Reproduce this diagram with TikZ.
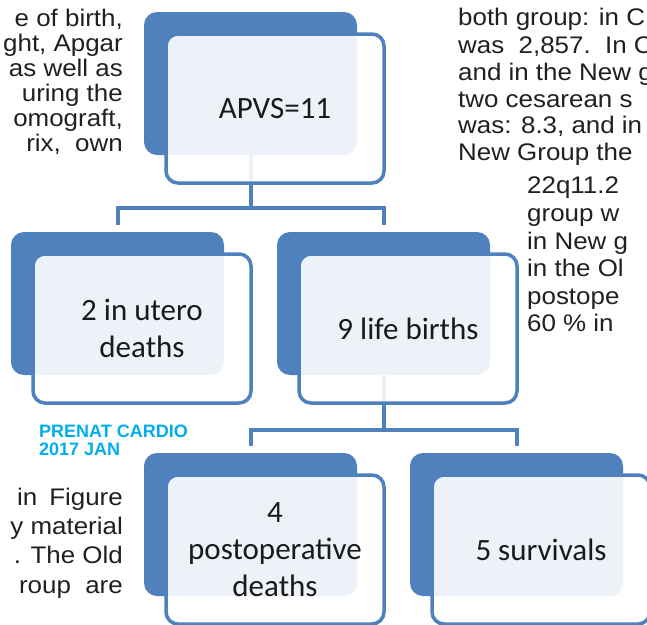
\documentclass[tikz,border=0pt]{standalone}
\usepackage{fontspec}
\setmainfont{Carlito}
\newfontfamily\artfont[FakeStretch=1.08]{Liberation Sans}
\newfontfamily\lblfont{Liberation Sans}
\definecolor{sblue}{HTML}{4F81BD}
\definecolor{cyanlbl}{HTML}{00AEEF}
\definecolor{arttext}{HTML}{231F20}
\definecolor{boxtext}{HTML}{1A1A1A}
\begin{document}
\begin{tikzpicture}[x=1pt,y=-1pt,
  back/.style={fill=sblue, draw=none, rounded corners=13pt, minimum width=213pt, minimum height=143pt, inner sep=0pt},
  front/.style={draw=sblue, line width=3.5pt, fill=white, fill opacity=0.9, text opacity=1, rounded corners=12pt, minimum width=218pt, minimum height=149pt, inner sep=0pt, align=center, font=\fontsize{31}{37}\selectfont, text=boxtext},
  conn/.style={draw=sblue, line width=4pt},
  art/.style={font=\artfont\fontsize{24}{25}\selectfont, text=arttext, inner sep=0pt},
  lbl/.style={font=\lblfont\bfseries\fontsize{18}{18}\selectfont, text=cyanlbl, inner sep=0pt, align=left}]
\useasboundingbox (0,0) rectangle (647,624);
\clip (0,0) rectangle (647,624);
\fill[white] (0,0) rectangle (647,624);

% background (blue) shapes
\node[back] (b1)  at (250.5,83.5) {};
\node[back] (b2a) at (117.5,303.5) {};
\node[back] (b2b) at (383.5,303.5) {};
\node[back] (b3a) at (250.5,524.5) {};
\node[back] (b3b) at (516.5,524.5) {};

% connectors
\coordinate (j1) at (250.5,208);
\coordinate (j2) at (383.5,430);
\draw[conn] (b1.south) -- (j1);
\draw[conn] ([yshift=7pt]b2a.north) |- (j1) -| ([yshift=7pt]b2b.north);
\draw[conn] (b2b.south) -- (j2);
\draw[conn] ([yshift=7pt]b3a.north) |- (j2) -| ([yshift=7pt]b3b.north);

% foreground boxes
\node[front] (f1)  at (275,108.5) {APVS=11};
\node[front] (f2a) at (142,328.5) {2 in utero\\deaths};
\node[front] (f2b) at (408,328.5) {9 life births};
\node[front] (f3a) at (275,549.5) {4\\postoperative\\deaths};
\node[front] (f3b) at (541,549.5) {5 survivals};

% label
\node[lbl, anchor=north west] (lab) at (39,425) {PRENAT CARDIO\\2017 JAN};

% surrounding article text (left column, top)
\node[art, anchor=base east] (tl1) at (123,26)  {e of birth,};
\node[art, anchor=base east] (tl2) at (123,51)  {ght, Apgar};
\node[art, anchor=base east] (tl3) at (123,76)  {as well as};
\node[art, anchor=base east] (tl4) at (123,101) {uring the};
\node[art, anchor=base east] (tl5) at (123,126) {omograft,};
\node[art, anchor=base east] (tl6) at (123,151) {rix,\hspace{0.6em}own};

% left column, bottom
\node[art, anchor=base east] (bl1) at (123,505) {in\hspace{0.5em}Figure};
\node[art, anchor=base east] (bl2) at (123,534) {y material};
\node[art, anchor=base east] (bl3) at (123,563) {. The Old};
\node[art, anchor=base east] (bl4) at (123,593) {roup\hspace{0.6em}are};

% right column
\node[art, anchor=base west] (tr1) at (458,25)  {both group: in C};
\node[art, anchor=base west] (tr2) at (458,53)  {was\hspace{0.6em}2,857.\hspace{0.6em}In C};
\node[art, anchor=base west] (tr3) at (458,80)  {and in the New g};
\node[art, anchor=base west] (tr4) at (458,107) {two cesarean s};
\node[art, anchor=base west] (tr5) at (458,133) {was: 8.3, and in};
\node[art, anchor=base west] (tr6) at (458,160) {New Group the};
\node[art, anchor=base west] (tr7) at (527,193) {22q11.2};
\node[art, anchor=base west] (tr8) at (527,221) {group w};
\node[art, anchor=base west] (tr9) at (527,249) {in New g};
\node[art, anchor=base west] (tr10) at (527,276) {in the Ol};
\node[art, anchor=base west] (tr11) at (527,304) {postope};
\node[art, anchor=base west] (tr12) at (527,331) {60 \% in};
\end{tikzpicture}
\end{document}
